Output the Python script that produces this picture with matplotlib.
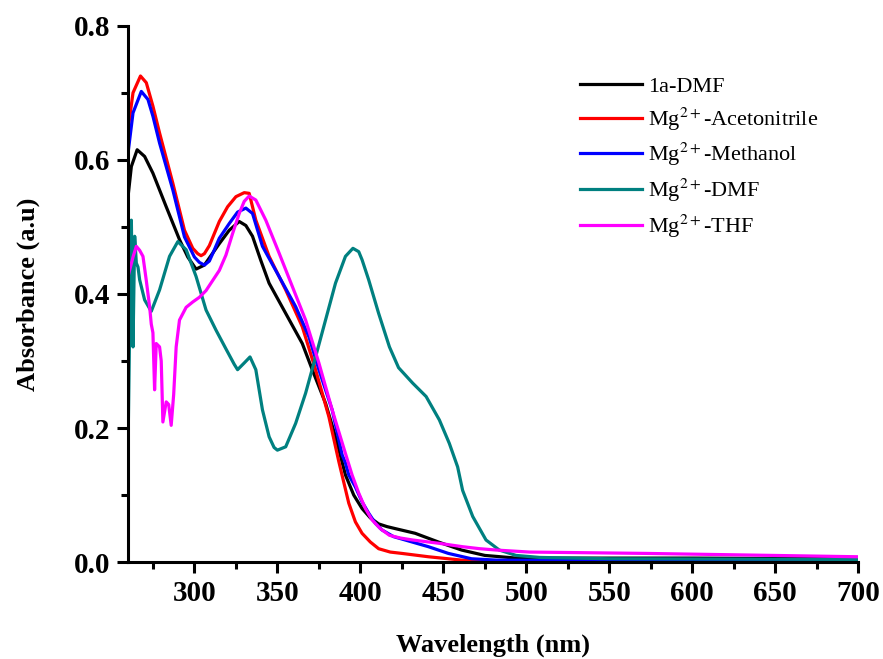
import matplotlib
matplotlib.use("Agg")
import matplotlib.pyplot as plt
from matplotlib.ticker import MultipleLocator

plt.rcParams["font.family"] = ["Liberation Serif", "DejaVu Serif"]
plt.rcParams["mathtext.fontset"] = "stix"

# UV-vis absorbance spectra (wavelength in nm, absorbance in a.u.)
wl_1a_dmf = [260, 262, 265.5, 270, 275, 283, 291, 296, 301, 306, 315, 321, 327, 331,
             335, 340, 345, 355, 365, 371, 379, 385, 391, 396, 401, 406, 411, 416, 421,
             433, 447, 461, 475, 494, 520, 600, 700]
abs_1a_dmf = [0.545, 0.59, 0.615, 0.605, 0.58, 0.53, 0.481, 0.455, 0.437, 0.443, 0.475,
              0.495, 0.508, 0.502, 0.486, 0.45, 0.416, 0.371, 0.326, 0.287, 0.237, 0.187,
              0.13, 0.10, 0.08, 0.066, 0.057, 0.053, 0.05, 0.043, 0.030, 0.018, 0.010,
              0.006, 0.006, 0.006, 0.005]

wl_acn = [260, 263, 267.5, 271, 275, 279, 287, 294, 299, 302, 304, 306, 309, 315, 320,
          325, 330, 333, 337, 345, 355, 365, 373, 381, 387, 393, 397, 401, 406, 411,
          418, 425, 441, 461, 480, 550, 700]
abs_acn = [0.645, 0.70, 0.725, 0.715, 0.68, 0.64, 0.565, 0.495, 0.468, 0.46, 0.457,
           0.46, 0.472, 0.508, 0.53, 0.545, 0.551, 0.55, 0.51, 0.456, 0.406, 0.351,
           0.287, 0.217, 0.15, 0.088, 0.06, 0.043, 0.03, 0.020, 0.015, 0.013, 0.008,
           0.003, 0.002, 0.002, 0.002]

wl_meoh = [260, 263, 268, 272, 275, 279, 287, 294, 300, 303, 306, 309, 311, 315, 321,
           326, 331, 335, 341, 351, 361, 369, 375, 383, 389, 391, 393, 397, 401, 405,
           409, 413, 420, 427, 441, 453, 467, 482, 550, 700]
abs_meoh = [0.61, 0.67, 0.702, 0.69, 0.665, 0.625, 0.555, 0.485, 0.455, 0.447, 0.443,
            0.449, 0.46, 0.483, 0.505, 0.522, 0.528, 0.52, 0.471, 0.426, 0.381, 0.336,
            0.287, 0.227, 0.16, 0.148, 0.13, 0.112, 0.09, 0.073, 0.058, 0.048, 0.038,
            0.033, 0.023, 0.013, 0.005, 0.003, 0.002, 0.002]

wl_dmf = [260, 261, 262, 263, 264, 265, 266, 267, 270, 274, 279, 285, 290, 295, 301,
          307, 313, 319, 324, 326, 330, 333.5, 337, 341, 345, 348, 350, 355, 361, 367,
          373, 379, 385, 391, 395.5, 399, 401, 405, 411, 417.5, 423, 431.5, 439.6, 447.6,
          453.6, 458.6, 461.6, 467.7, 475.7, 483.7, 493.8, 508, 550, 700]
abs_dmf = [0.17, 0.356, 0.51, 0.321, 0.486, 0.446, 0.44, 0.421, 0.391, 0.374, 0.406,
           0.456, 0.478, 0.466, 0.426, 0.376, 0.346, 0.318, 0.295, 0.287, 0.297, 0.306,
           0.287, 0.227, 0.187, 0.171, 0.167, 0.172, 0.207, 0.252, 0.306, 0.361, 0.416,
           0.456, 0.468, 0.463, 0.451, 0.421, 0.371, 0.321, 0.29, 0.267, 0.247, 0.212,
           0.177, 0.142, 0.107, 0.068, 0.033, 0.018, 0.010, 0.007, 0.005, 0.004]

wl_thf = [260, 263, 265, 267, 269, 271, 273, 274, 275, 276, 277, 279, 280, 281, 283,
          284.5, 286, 287.5, 289, 291, 295, 299, 303, 307, 311, 315, 319, 323, 327, 330,
          333, 337, 343, 351, 359, 367, 375, 383, 391, 395, 399, 403, 407, 412, 417.5,
          424, 431.5, 447.6, 461.6, 472, 482, 502, 572, 700]
abs_thf = [0.426, 0.455, 0.471, 0.465, 0.456, 0.42, 0.381, 0.355, 0.342, 0.257, 0.326,
           0.321, 0.30, 0.209, 0.239, 0.235, 0.204, 0.25, 0.321, 0.361, 0.38, 0.388,
           0.395, 0.405, 0.42, 0.435, 0.458, 0.49, 0.52, 0.538, 0.546, 0.54, 0.51, 0.461,
           0.411, 0.361, 0.297, 0.227, 0.162, 0.13, 0.103, 0.08, 0.063, 0.05, 0.040,
           0.036, 0.033, 0.028, 0.023, 0.02, 0.018, 0.015, 0.013, 0.008]

series = [
    ("1a-DMF", wl_1a_dmf, abs_1a_dmf, "black"),
    ("Mg$^{2+}$-Acetonitrile", wl_acn, abs_acn, "#ff0000"),
    ("Mg$^{2+}$-Methanol", wl_meoh, abs_meoh, "#0000ff"),
    ("Mg$^{2+}$-DMF", wl_dmf, abs_dmf, "#008080"),
    ("Mg$^{2+}$-THF", wl_thf, abs_thf, "#ff00ff"),
]

fig = plt.figure(figsize=(8.83, 6.59), dpi=100)
ax = fig.add_axes([0.145, 0.147, 0.827, 0.814])

for name, x, y, color in series:
    ax.plot(x, y, color=color, linewidth=2.3, label=name, solid_joinstyle="round")

ax.set_xlim(260, 700)
ax.set_ylim(0, 0.8)
ax.set_xticks(range(300, 701, 50))
ax.xaxis.set_minor_locator(MultipleLocator(25))
ax.yaxis.set_major_locator(MultipleLocator(0.2))
ax.yaxis.set_minor_locator(MultipleLocator(0.1))
ax.yaxis.set_major_formatter(plt.FormatStrFormatter("%.1f"))

ax.spines[["top", "right"]].set_visible(False)
for side in ("left", "bottom"):
    ax.spines[side].set_linewidth(2.2)
ax.tick_params(which="major", direction="out", length=8, width=2.2,
               labelsize=21, pad=5)
ax.tick_params(which="minor", direction="out", length=5, width=2.2)
for lbl in ax.get_xticklabels() + ax.get_yticklabels():
    lbl.set_fontweight("bold")

ax.set_xlabel("Wavelength (nm)", fontsize=19, fontweight="bold", labelpad=19)
ax.set_ylabel("Absorbance (a.u)", fontsize=19, fontweight="bold", labelpad=24)

ax.legend(loc="upper left", bbox_to_anchor=(0.657, 0.884),
          bbox_transform=fig.transFigure, frameon=False, fontsize=16,
          handlelength=2.8, handletextpad=0.25, labelspacing=0.38,
          borderpad=0, borderaxespad=0)

fig.savefig("out.png", dpi=100)
